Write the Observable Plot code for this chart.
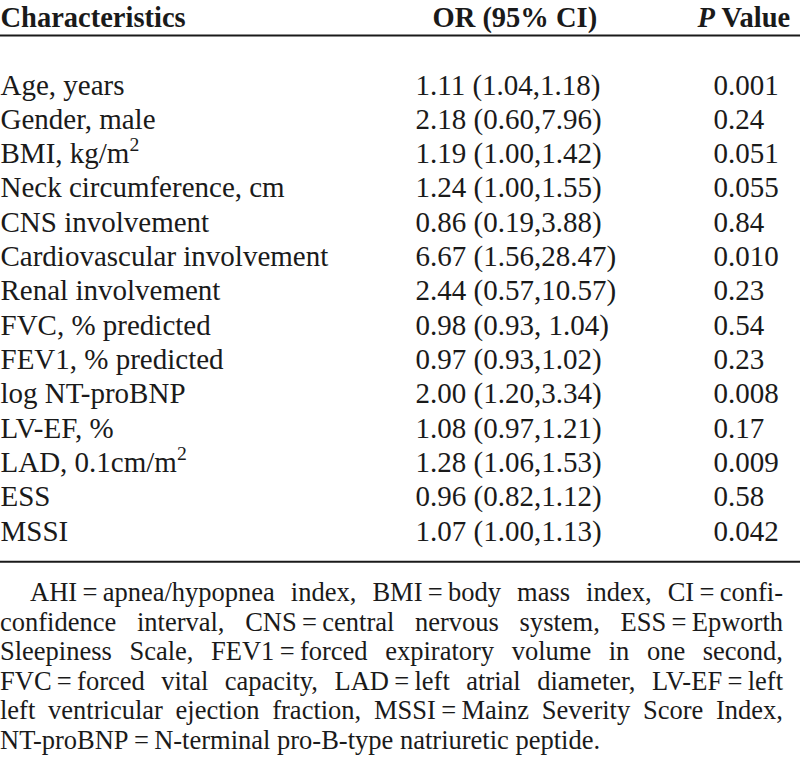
<!DOCTYPE html>
<html>
<head>
<meta charset="utf-8">
<script src="https://cdn.jsdelivr.net/npm/d3@7"></script>
<script src="https://cdn.jsdelivr.net/npm/@observablehq/plot@0.6"></script>
<style>
  html, body { margin: 0; padding: 0; background: #fff; }
  #chart svg { display: block; }
  #fn { font-family: "Liberation Serif", "Times New Roman", serif; font-size: 26.5px; line-height: 29.6px; color: #1a1a1a; margin-top: 6px; width: 800px; }
  #fn .ln { white-space: nowrap; }
</style>
</head>
<body>
<div id="chart"></div>
<div id="fn"></div>
<script>
// ---- data ----
const headers = ["Characteristics", "OR (95% CI)", "P Value"];
const characteristics = [
  "Age, years", "Gender, male", "BMI, kg/m²", "Neck circumference, cm",
  "CNS involvement", "Cardiovascular involvement", "Renal involvement",
  "FVC, % predicted", "FEV1, % predicted", "log NT-proBNP", "LV-EF, %",
  "LAD, 0.1cm/m²", "ESS", "MSSI"
];
const orCI = [
  "1.11 (1.04,1.18)", "2.18 (0.60,7.96)", "1.19 (1.00,1.42)", "1.24 (1.00,1.55)",
  "0.86 (0.19,3.88)", "6.67 (1.56,28.47)", "2.44 (0.57,10.57)", "0.98 (0.93, 1.04)",
  "0.97 (0.93,1.02)", "2.00 (1.20,3.34)", "1.08 (0.97,1.21)", "1.28 (1.06,1.53)",
  "0.96 (0.82,1.12)", "1.07 (1.00,1.13)"
];
const pValues = ["0.001", "0.24", "0.051", "0.055", "0.84", "0.010", "0.23", "0.54",
  "0.23", "0.008", "0.17", "0.009", "0.58", "0.042"];
const footnoteLines = [
  "AHI\u2009=\u2009apnea/hypopnea index, BMI\u2009=\u2009body mass index, CI\u2009=\u2009confi-",
  "confidence interval, CNS\u2009=\u2009central nervous system, ESS\u2009=\u2009Epworth",
  "Sleepiness Scale, FEV1\u2009=\u2009forced expiratory volume in one second,",
  "FVC\u2009=\u2009forced vital capacity, LAD\u2009=\u2009left atrial diameter, LV-EF\u2009=\u2009left",
  "left ventricular ejection fraction, MSSI\u2009=\u2009Mainz Severity Score Index,",
  "NT-proBNP\u2009=\u2009N-terminal pro-B-type natriuretic peptide."
];

// ---- layout (styles / positions) ----
const COL_X = [0, 415, 713];       // left edge of each column's body text
const HEAD_X = [0, 432, 697];      // left edge of each header
const HEADER_ROW = -1.98;          // header baseline in row units
const TOP_RULE = -1.72;
const BOTTOM_RULE = 13.62;
const INK = "#1a1a1a";
const FONT = "Liberation Serif, Times New Roman, serif";

const rows = characteristics.map((c, i) => ({i, cells: [c, orCI[i], pValues[i]]}));
const cells = rows.flatMap(r => r.cells.map((t, j) => ({i: r.i, x: COL_X[j], text: t})));
const headerCells = headers.map((h, j) => ({x: HEAD_X[j], text: h}));

const chart = Plot.plot({
  width: 800,
  height: 572,
  margin: 0,
  x: {domain: [0, 800], range: [0, 800], axis: null},
  y: {domain: [0, characteristics.length - 1], range: [94, 540], axis: null},
  style: {fontFamily: FONT, color: INK, background: "white"},
  marks: [
    Plot.ruleY([TOP_RULE, BOTTOM_RULE], {stroke: INK, strokeWidth: 2}),
    Plot.text(headerCells, {x: "x", y: () => HEADER_ROW, text: "text", textAnchor: "start",
      lineAnchor: "bottom", fontSize: 28.5, fontWeight: "bold", fill: INK, fontFamily: FONT}),
    Plot.text(cells, {x: "x", y: "i", text: "text", textAnchor: "start",
      lineAnchor: "bottom", fontSize: 29, fill: INK, fontFamily: FONT})
  ]
});
document.getElementById("chart").appendChild(chart);

// italic "P" in the header, real superscripts for m²
d3.select(chart).selectAll("text").each(function() {
  const s = this.textContent;
  const t = d3.select(this);
  if (s === "P Value") {
    this.textContent = "";
    t.append("tspan").attr("font-style", "italic").text("P");
    t.append("tspan").text(" Value");
  } else if (s.includes("²")) {
    const [a, b] = s.split("²");
    this.textContent = "";
    t.append("tspan").text(a);
    t.append("tspan").attr("font-size", "0.68em").attr("dy", "-0.62em").text("2");
    if (b) t.append("tspan").attr("dy", "0.42em").text(b);
  }
});

// footnote, justified line by line
const RIGHT_EDGE = 783, INDENT = 30;
const fn = document.getElementById("fn");
footnoteLines.forEach((line, k) => {
  const div = document.createElement("div");
  div.className = "ln";
  const span = document.createElement("span");
  span.textContent = line;
  div.appendChild(span);
  if (k === 0) div.style.paddingLeft = INDENT + "px";
  fn.appendChild(div);
  if (k < footnoteLines.length - 1) {
    const w = span.getBoundingClientRect().width;
    const target = RIGHT_EDGE - (k === 0 ? INDENT : 0);
    const spaces = (line.match(/ /g) || []).length;
    if (spaces) span.style.wordSpacing = ((target - w) / spaces) + "px";
  }
});
</script>
</body>
</html>
